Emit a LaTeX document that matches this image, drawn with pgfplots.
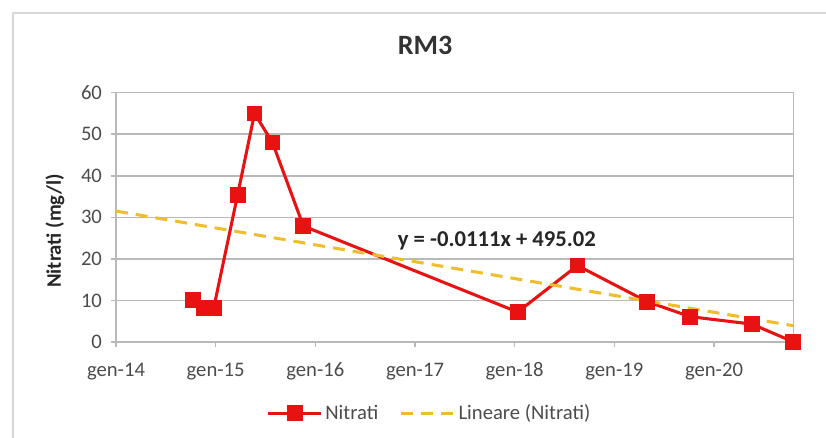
\documentclass[border=0pt]{standalone}
\usepackage{fontspec}
\setmainfont{Carlito}
\usepackage{pgfplots}
\pgfplotsset{compat=1.18}
\definecolor{nred}{RGB}{232,18,18}
\definecolor{trendc}{RGB}{240,190,45}
\definecolor{gridc}{RGB}{185,185,185}
\definecolor{framec}{RGB}{215,215,215}

\begin{document}
\begin{tikzpicture}[x=0.75pt,y=0.75pt]
\useasboundingbox (0,0) rectangle (826,438);
\draw[framec, line width=1.4pt] (12.7,-30) rectangle (870,425.3);
\node[font=\bfseries\fontsize{21}{23}\selectfont, text=black!80] at (425,393) {RM3};
\begin{axis}[
  at={(87pt,72pt)}, anchor=south west,
  scale only axis,
  width=508.3pt, height=187pt,
  xmin=0, xmax=6.8,
  ymin=0, ymax=60,
  xtick={0,1,2,3,4,5,6},
  xticklabels={gen-14,gen-15,gen-16,gen-17,gen-18,gen-19,gen-20},
  ytick={0,10,20,30,40,50,60},
  xtick pos=bottom, ytick pos=left,
  tick align=outside,
  major tick length=4pt,
  ymajorgrids,
  grid style={gridc, line width=1.1pt},
  axis line style={gridc, line width=1.1pt},
  tick style={gridc, line width=1.1pt},
  tick label style={font=\fontsize{15.5}{17}\selectfont, text=black!70},
  xticklabel style={yshift=-8pt},
  yticklabel style={xshift=-3pt},
  /pgf/number format/assume math mode=true,
  ylabel={\textbf{Nitrati (mg/l)}},
  ylabel style={font=\fontsize{15.5}{17}\selectfont, text=black!85,
    at={(rel axis cs:-0.09,0.445)}, anchor=center},
  legend style={at={(rel axis cs:0.463,-0.285)}, anchor=center,
    draw=none, fill=none, legend columns=2,
    font=\fontsize{15.5}{17}\selectfont, text=black!70,
    /tikz/every even column/.append style={column sep=14pt}},
  legend image code/.code={
    \draw[#1] (0cm,0cm) -- (1.4cm,0cm);
    \draw[#1, mark repeat=2, mark phase=2] plot coordinates {(0cm,0cm) (0.7cm,0cm) (1.4cm,0cm)};
  },
  clip=false,
]
\addplot[nred, line width=2.3pt, mark=square*, mark size=4.8pt,
  mark options={solid}] coordinates {
  (0.77,10.2) (0.88,8.1) (0.98,8.1) (1.22,35.4) (1.39,55.0)
  (1.57,48.0) (1.88,27.9) (4.03,7.2) (4.63,18.4) (5.33,9.7)
  (5.76,6.1) (6.38,4.3) (6.79,0.1)
};
\addlegendentry{Nitrati}
\addplot[trendc, line width=2.3pt, dash pattern=on 9pt off 6pt, mark=none] coordinates {
  (0,31.5) (6.8,3.9)
};
\addlegendentry{Lineare (Nitrati)}
\node[font=\bfseries\fontsize{17}{19}\selectfont, text=black!85]
  at (rel axis cs:0.562,0.405) {y = -0.0111x + 495.02};
\end{axis}
\end{tikzpicture}
\end{document}
